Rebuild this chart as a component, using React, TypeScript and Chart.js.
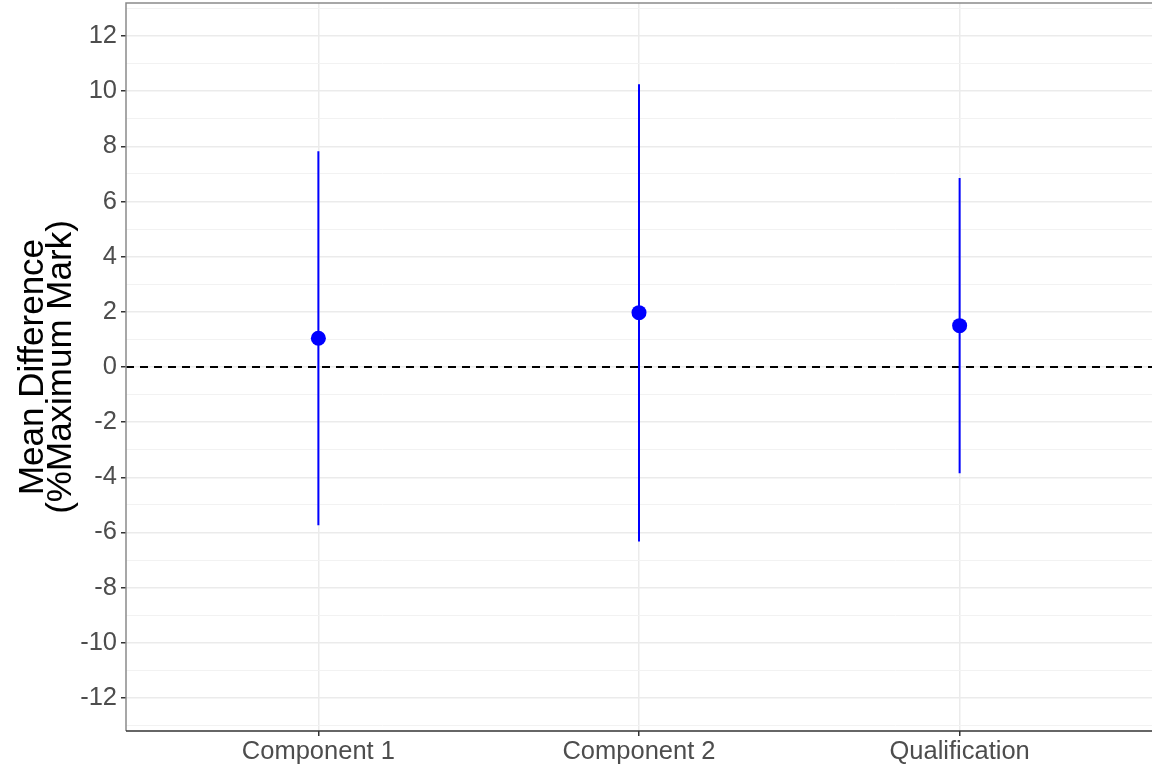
import React, { useEffect, useRef } from "react";
import { Chart, registerables } from "chart.js";

Chart.register(...registerables);

// Mean difference (% of maximum mark) with confidence interval bounds
const categories = ["Component 1", "Component 2", "Qualification"];
const meanDiff = [1.04, 1.97, 1.5];
const lowerBound = [-5.74, -6.33, -3.85];
const upperBound = [7.82, 10.25, 6.85];

// Axis settings
const yMin = -13.2;
const yMax = 13.2;
const yTickValues = [-13, -12, -11, -10, -9, -8, -7, -6, -5, -4, -3, -2, -1, 0, 1, 2, 3, 4, 5, 6, 7, 8, 9, 10, 11, 12, 13];
const yTitleLines = ["Mean Difference", "(%Maximum Mark)"];

const W = 1152;
const H = 765;
const FONT = "'Liberation Sans', Arial, Helvetica, sans-serif";

const isMajor = (v: number) => Math.abs(v) % 2 === 0;

export default function App() {
  const canvasRef = useRef<HTMLCanvasElement | null>(null);

  useEffect(() => {
    const canvas = canvasRef.current;
    if (!canvas) return;

    // zero reference line (dashed), drawn beneath the data
    const zeroLine = {
      id: "zeroLine",
      beforeDatasetsDraw(chart: any) {
        const { ctx, chartArea, scales } = chart;
        const y = scales.y.getPixelForValue(0);
        ctx.save();
        ctx.strokeStyle = "#000000";
        ctx.lineWidth = 1.8;
        ctx.setLineDash([8, 6]);
        ctx.beginPath();
        ctx.moveTo(chartArea.left, y);
        ctx.lineTo(chartArea.right, y);
        ctx.stroke();
        ctx.restore();
      },
    };

    // panel frame and rotated y-axis title
    const frameAndTitle = {
      id: "frameAndTitle",
      afterDraw(chart: any) {
        const { ctx, chartArea } = chart;
        ctx.save();
        ctx.lineWidth = 1.5;
        ctx.strokeStyle = "#8a8a8a";
        ctx.beginPath();
        ctx.moveTo(chartArea.left, chartArea.bottom);
        ctx.lineTo(chartArea.left, chartArea.top);
        ctx.lineTo(chartArea.right, chartArea.top);
        ctx.stroke();
        ctx.strokeStyle = "#333333";
        ctx.beginPath();
        ctx.moveTo(chartArea.left, chartArea.bottom);
        ctx.lineTo(chartArea.right, chartArea.bottom);
        ctx.stroke();

        const cy = (chartArea.top + chartArea.bottom) / 2;
        ctx.translate(0, cy);
        ctx.rotate(-Math.PI / 2);
        ctx.fillStyle = "#000000";
        ctx.font = `35px ${FONT}`;
        ctx.textAlign = "center";
        ctx.textBaseline = "alphabetic";
        ctx.fillText(yTitleLines[0], 0, 43);
        ctx.fillText(yTitleLines[1], 0, 71);
        ctx.restore();
      },
    };

    const chart = new Chart(canvas, {
      type: "scatter",
      data: {
        datasets: [
          {
            label: "Mean difference",
            data: meanDiff.map((v, i) => ({ x: i + 1, y: v })),
            pointRadius: 7.5,
            pointHoverRadius: 7.5,
            backgroundColor: "#0000FF",
            borderWidth: 0,
          },
          ...categories.map((c, i) => ({
            label: c,
            type: "line" as const,
            showLine: true,
            data: [
              { x: i + 1, y: lowerBound[i] },
              { x: i + 1, y: upperBound[i] },
            ],
            borderColor: "#0000FF",
            borderWidth: 2,
            pointRadius: 0,
            pointHoverRadius: 0,
          })),
        ],
      },
      options: {
        animation: false,
        responsive: false,
        devicePixelRatio: 1,
        layout: { autoPadding: false, padding: { top: 3, right: 0, bottom: 0, left: 0 } },
        plugins: {
          legend: { display: false },
          tooltip: { enabled: false },
        },
        scales: {
          x: {
            type: "linear",
            min: 0.4,
            max: 3.6,
            afterBuildTicks(scale: any) {
              scale.ticks = categories.map((_, i) => ({ value: i + 1 }));
            },
            afterFit(scale: any) {
              scale.height = 34;
              scale.paddingLeft = 0;
              scale.paddingRight = 0;
            },
            border: { display: false },
            grid: {
              color: "#EBEBEB",
              lineWidth: 1.5,
              tickColor: "#333333",
              tickLength: 5,
            },
            ticks: {
              autoSkip: false,
              maxRotation: 0,
              padding: 1,
              color: "#4D4D4D",
              font: { size: 25.5, family: FONT },
              callback: (v: any) => categories[Number(v) - 1] ?? "",
            },
          },
          y: {
            type: "linear",
            min: yMin,
            max: yMax,
            afterBuildTicks(scale: any) {
              scale.ticks = yTickValues.map((v) => ({ value: v }));
            },
            afterFit(scale: any) {
              scale.width = 126;
              scale.paddingTop = 0;
              scale.paddingBottom = 0;
            },
            border: { display: false },
            grid: {
              color: (ctx: any) => (isMajor(ctx.tick.value) ? "#EBEBEB" : "#F2F2F2"),
              lineWidth: (ctx: any) => (isMajor(ctx.tick.value) ? 1.5 : 1),
              tickColor: (ctx: any) => (isMajor(ctx.tick.value) ? "#333333" : "rgba(0,0,0,0)"),
              tickLength: 5,
            },
            ticks: {
              autoSkip: false,
              padding: 4,
              color: "#4D4D4D",
              font: { size: 25.5, family: FONT },
              callback: (v: any) => (isMajor(Number(v)) ? String(v) : ""),
            },
          },
        },
      },
      plugins: [zeroLine, frameAndTitle],
    });

    return () => chart.destroy();
  }, []);

  return (
    <div style={{ position: "absolute", left: 0, top: 0, width: W, height: H, background: "#ffffff" }}>
      <canvas ref={canvasRef} width={W} height={H} style={{ display: "block" }} />
    </div>
  );
}
